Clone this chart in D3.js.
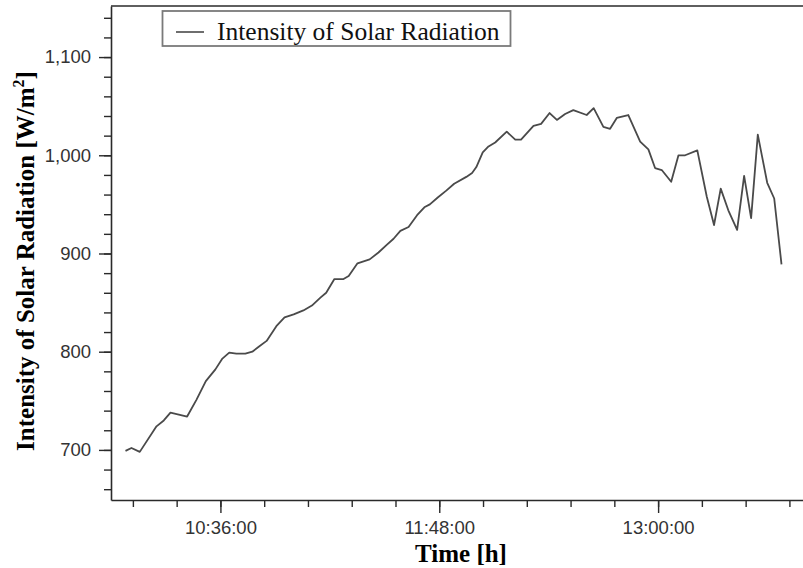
<!DOCTYPE html>
<html>
<head>
<meta charset="utf-8">
<script src="https://cdn.jsdelivr.net/npm/d3@7"></script>
<style>
  body { margin: 0; background: #fff; }
  svg { display: block; overflow: hidden; }
</style>
</head>
<body>
<div id="chart"></div>
<script>
// Data
const times = [
  "10:04:46","10:06:44","10:09:28","10:14:58","10:17:22","10:19:34","10:25:03","10:28:06",
  "10:31:12","10:34:21","10:36:39","10:38:54","10:41:15","10:44:12","10:46:30","10:48:36",
  "10:51:12","10:54:24","10:57:06","11:00:06","11:03:18","11:06:06","11:08:54","11:10:48",
  "11:13:30","11:16:30","11:18:12","11:21:06","11:23:06","11:25:06","11:28:00","11:30:48",
  "11:32:58","11:35:12","11:37:54","11:40:42","11:43:06","11:44:54","11:47:30","11:50:18",
  "11:52:54","11:56:54","11:58:48","12:00:12","12:02:18","12:04:12","12:06:24","12:10:12",
  "12:13:00","12:14:54","12:19:00","12:21:30","12:24:18","12:26:42","12:29:24","12:32:06",
  "12:36:30","12:38:48","12:42:00","12:44:12","12:46:24","12:50:12","12:54:06","12:56:48",
  "12:59:00","13:01:12","13:04:18","13:06:42","13:08:54","13:12:54","13:16:00","13:18:24",
  "13:20:36","13:23:06","13:26:00","13:28:18","13:30:36","13:32:48","13:35:54","13:38:12",
  "13:40:36"
]
const radiation = [
  699, 702, 698, 724, 730, 738, 734, 751,
  770, 782, 793, 799, 798, 798, 800, 805,
  811, 826, 835, 838, 842, 847, 855, 860,
  874, 874, 877, 890, 892, 894, 901, 909,
  915, 923, 927, 939, 947, 950, 957, 964,
  971, 978, 982, 988, 1003, 1009, 1013, 1024,
  1016, 1016, 1030, 1032, 1043, 1036, 1042, 1046,
  1041, 1048, 1029, 1027, 1038, 1041, 1014, 1006,
  987, 985, 973, 1000, 1000, 1005, 958, 929,
  966, 944, 924, 979, 936, 1021, 972, 956,
  889
]
const xDomain = ["10:00:00", "13:48:00"]
const xTickLabels = ["10:36:00", "11:48:00", "13:00:00"]
const xMinorStart = "10:07:12"   // minor ticks every 14.4 min
const yDomain = [649, 1152]
const yTickLabels = [700, 800, 900, 1000, 1100]
const yMinorStep = 20

const seriesName = "Intensity of Solar Radiation"
const xTitle = "Time [h]"
const yTitle = "Intensity of Solar Radiation [W/m"

function draw() {
  const parseTime = d3.timeParse("%H:%M:%S")
  const dataset = times.map((t, i) => ({ time: parseTime(t), value: radiation[i] }))

  // Dimensions
  let dimensions = {
    width: 803,
    height: 568,
    margins: { top: 6, right: -1, bottom: 68, left: 111 },
  }
  dimensions.ctrWidth = dimensions.width - dimensions.margins.left - dimensions.margins.right
  dimensions.ctrHeight = dimensions.height - dimensions.margins.top - dimensions.margins.bottom

  const svg = d3.select("#chart")
    .append("svg")
    .attr("width", dimensions.width)
    .attr("height", dimensions.height)

  const ctr = svg.append("g")
    .attr("transform", `translate(${dimensions.margins.left}, ${dimensions.margins.top})`)

  // Scales
  const xScale = d3.scaleTime()
    .domain(xDomain.map(parseTime))
    .range([0, dimensions.ctrWidth])

  const yScale = d3.scaleLinear()
    .domain(yDomain)
    .range([dimensions.ctrHeight, 0])

  // Line
  const lineGenerator = d3.line()
    .x(d => xScale(d.time))
    .y(d => yScale(d.value))

  ctr.append("path")
    .datum(dataset)
    .attr("d", lineGenerator)
    .attr("fill", "none")
    .attr("stroke", "#4a4a4a")
    .attr("stroke-width", 1.8)
    .attr("stroke-linejoin", "round")

  // Axes
  const axisColor = "#2a2a2a"
  const tickFont = "'Liberation Sans', Arial, sans-serif"

  // minor x ticks, every 14.4 minutes
  const minorStep = 14.4 * 60 * 1000
  const xMinorTicks = d3.range(+parseTime(xMinorStart), +xScale.domain()[1], minorStep)
    .map(v => new Date(v))
  ctr.append("g")
    .attr("transform", `translate(0, ${dimensions.ctrHeight})`)
    .call(d3.axisBottom(xScale).tickValues(xMinorTicks).tickSize(7).tickSizeOuter(0).tickFormat(""))
    .call(g => g.select(".domain").remove())

  const xAxis = d3.axisBottom(xScale)
    .tickValues(xTickLabels.map(parseTime))
    .tickFormat(d3.timeFormat("%H:%M:%S"))
    .tickSize(13)
    .tickSizeOuter(0)
    .tickPadding(8)
  const xAxisGroup = ctr.append("g")
    .attr("transform", `translate(0, ${dimensions.ctrHeight})`)
    .call(xAxis)

  // minor y ticks
  const yMinorTicks = d3.range(yDomain[0] + (yMinorStep - yDomain[0] % yMinorStep), yDomain[1], yMinorStep)
  ctr.append("g")
    .call(d3.axisLeft(yScale).tickValues(yMinorTicks).tickSize(7).tickSizeOuter(0).tickFormat(""))
    .call(g => g.select(".domain").remove())

  const yAxis = d3.axisLeft(yScale)
    .tickValues(yTickLabels)
    .tickFormat(d3.format(","))
    .tickSize(12)
    .tickSizeOuter(0)
    .tickPadding(8)
  const yAxisGroup = ctr.append("g")
    .call(yAxis)

  ctr.selectAll(".domain").attr("stroke", axisColor).attr("stroke-width", 1.6)
  ctr.selectAll(".tick line").attr("stroke", axisColor).attr("stroke-width", 1.4)
  ctr.selectAll(".tick text")
    .attr("fill", "#333")
    .style("font-family", tickFont)
    .style("font-size", "18.5px")

  // top border
  ctr.append("line")
    .attr("x1", 0).attr("x2", dimensions.ctrWidth)
    .attr("y1", 0).attr("y2", 0)
    .attr("stroke", axisColor)
    .attr("stroke-width", 1.6)

  // Axis titles
  const titleFont = "'Liberation Serif', 'Times New Roman', serif"
  svg.append("text")
    .attr("x", 461)
    .attr("y", 562)
    .attr("text-anchor", "middle")
    .style("font-family", titleFont)
    .style("font-weight", "bold")
    .style("font-size", "25px")
    .text(xTitle)

  const yLabel = svg.append("text")
    .attr("transform", `translate(34, ${dimensions.margins.top + dimensions.ctrHeight / 2 + 8}) rotate(-90)`)
    .attr("text-anchor", "middle")
    .style("font-family", titleFont)
    .style("font-weight", "bold")
    .style("font-size", "25px")
  yLabel.append("tspan").text(yTitle)
  yLabel.append("tspan").attr("dy", -10).style("font-size", "16px").text("2")
  yLabel.append("tspan").attr("dy", 10).text("]")

  // Legend
  const legend = svg.append("g")
  legend.append("rect")
    .attr("x", 162.5).attr("y", 11)
    .attr("width", 348).attr("height", 35)
    .attr("fill", "#fff")
    .attr("stroke", "#7a7a7a")
    .attr("stroke-width", 1.8)
  legend.append("line")
    .attr("x1", 176).attr("x2", 204)
    .attr("y1", 32).attr("y2", 32)
    .attr("stroke", "#4a4a4a")
    .attr("stroke-width", 1.6)
  legend.append("text")
    .attr("x", 217)
    .attr("y", 39.5)
    .style("font-family", titleFont)
    .style("font-size", "25.5px")
    .attr("fill", "#111")
    .text(seriesName)
}
draw()
</script>
</body>
</html>
